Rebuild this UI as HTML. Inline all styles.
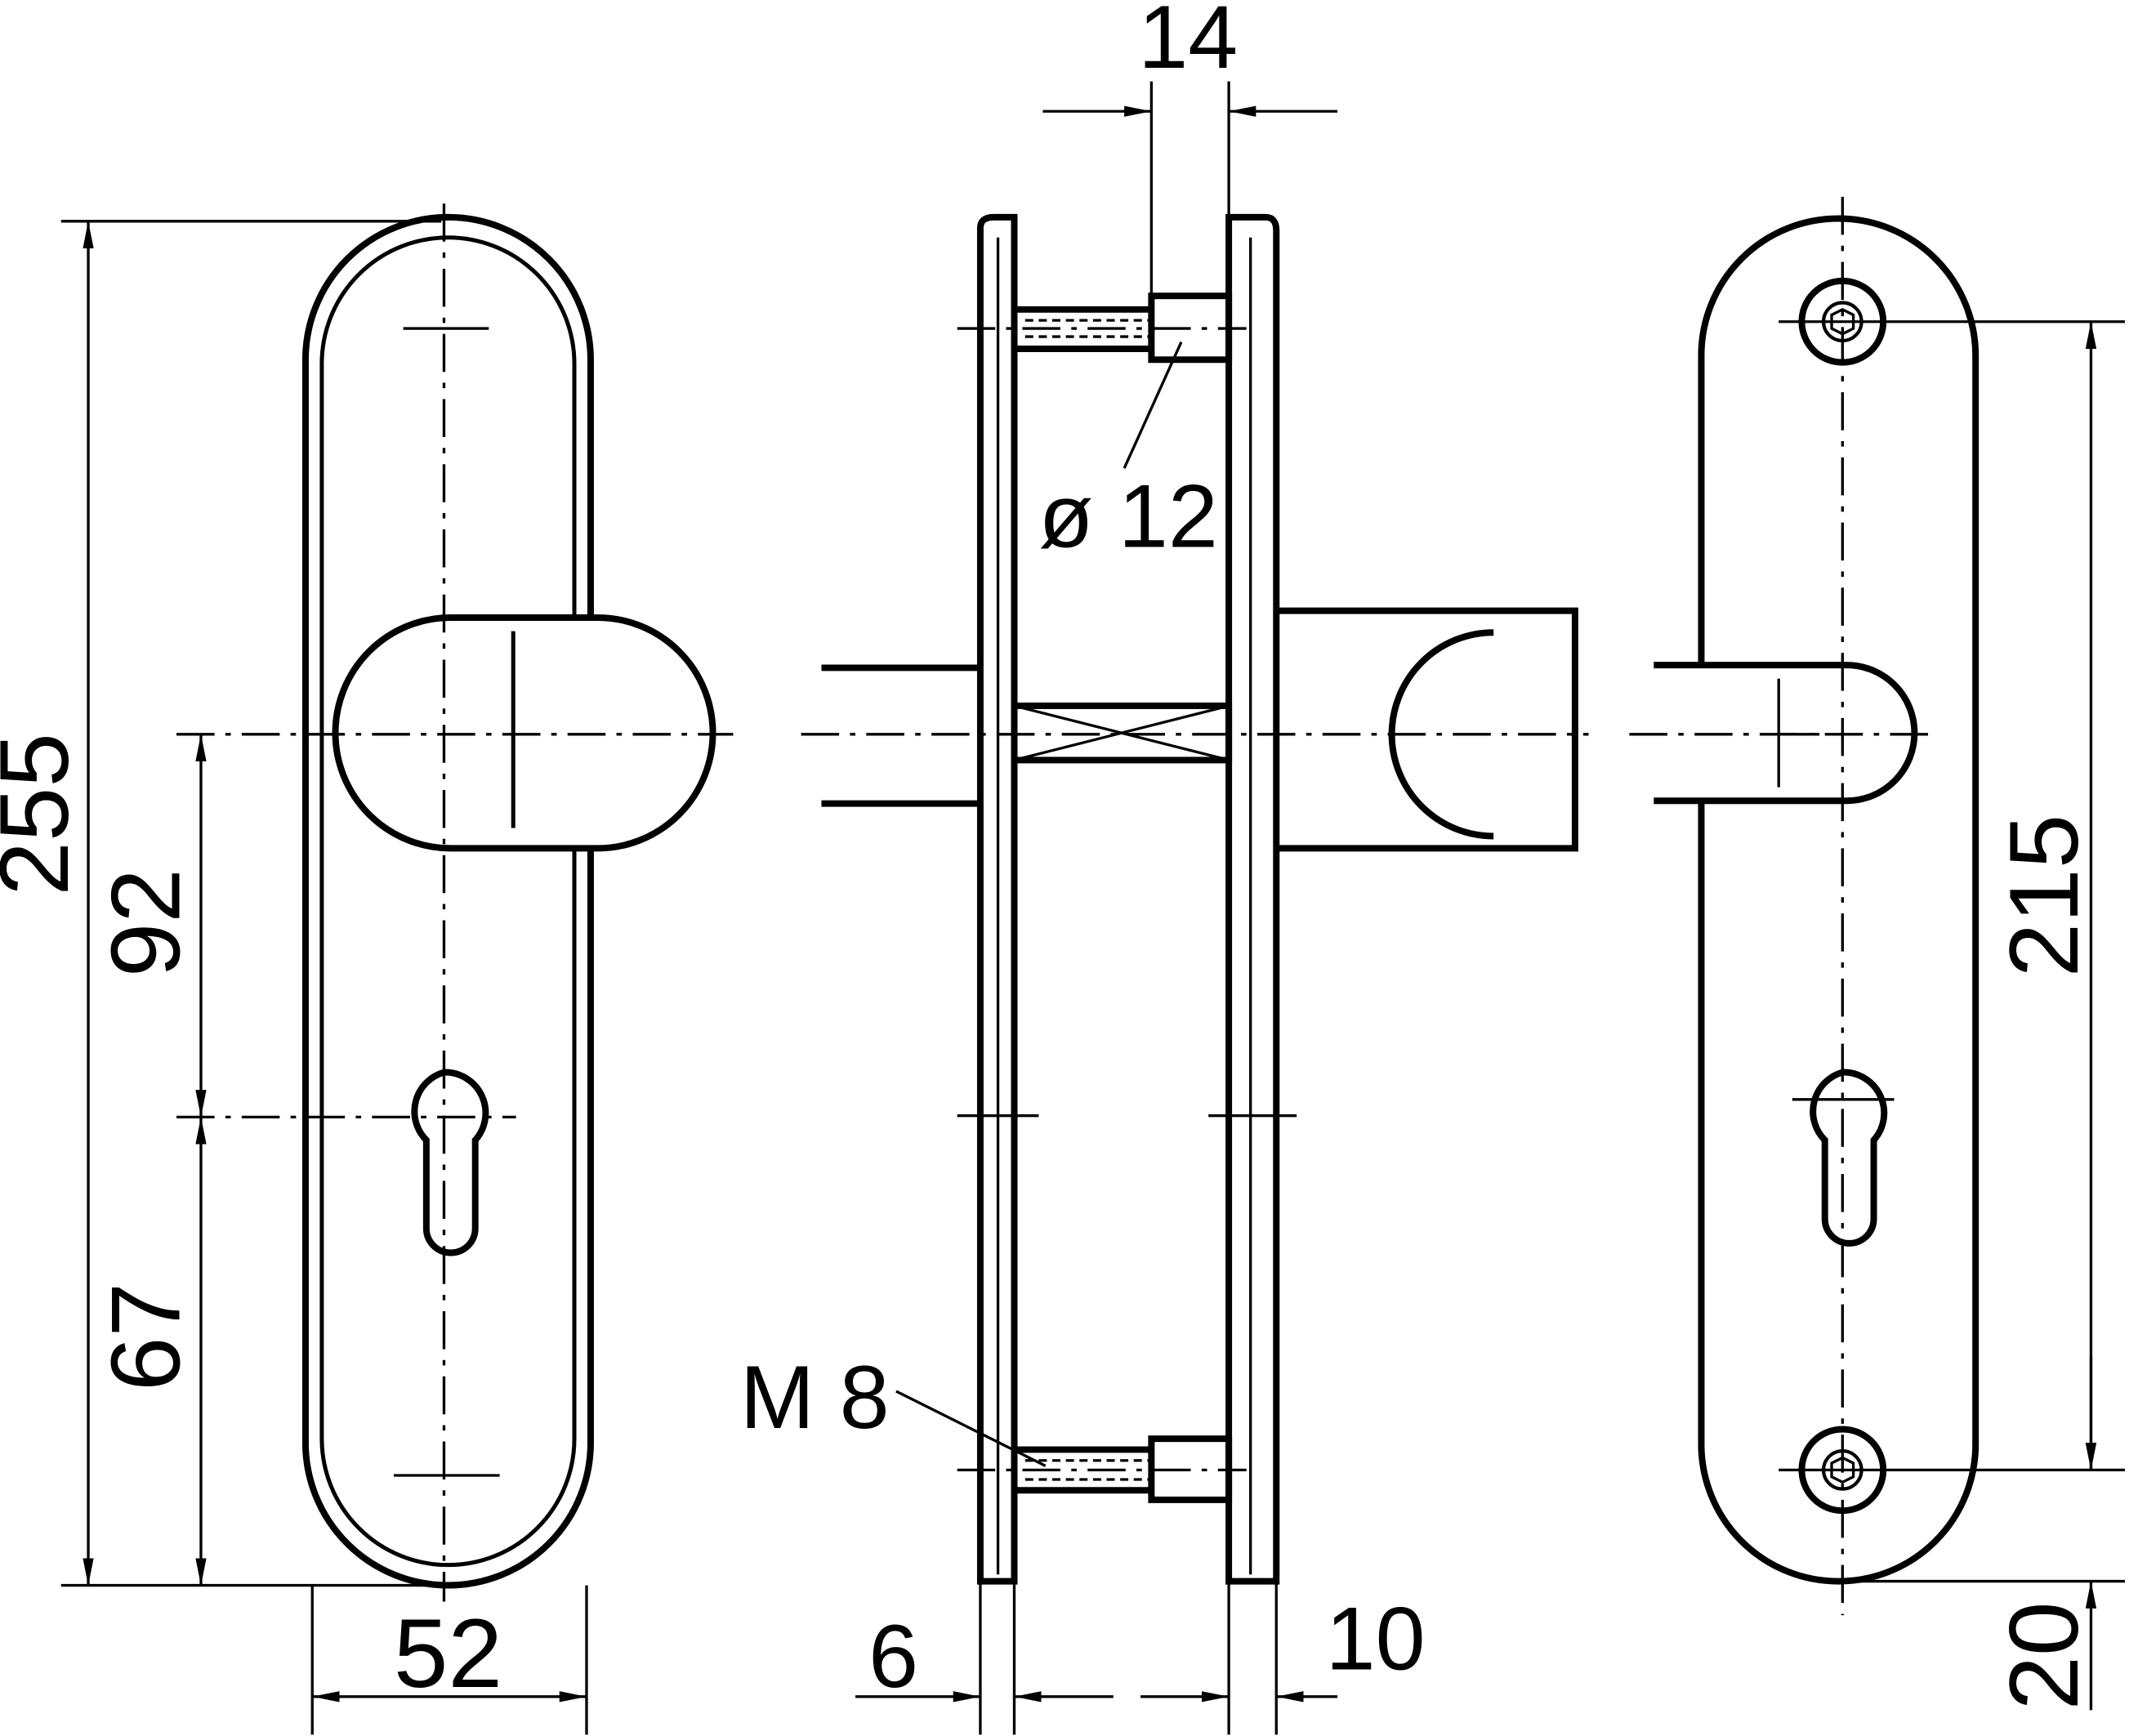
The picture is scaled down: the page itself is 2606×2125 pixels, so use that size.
<!DOCTYPE html>
<html><head><meta charset="utf-8">
<style>
html,body{margin:0;padding:0;background:#fff;}
svg{display:block;}
text{font-family:"Liberation Sans",sans-serif;fill:#000;}
</style></head>
<body>
<svg width="2606" height="2125" viewBox="0 0 1568 1279" preserveAspectRatio="none" xmlns="http://www.w3.org/2000/svg">
<defs>
<marker id="a" viewBox="0 0 20 8" refX="20" refY="4" markerWidth="20" markerHeight="8" markerUnits="userSpaceOnUse" orient="auto-start-reverse">
<path d="M0,0 L20,4 L0,8 z" fill="#000"/></marker>
</defs>
<g fill="none" stroke="#000" stroke-width="4.8">
<!-- LEFT VIEW -->
<path d="M225,265 A102,102 0 0 1 435,265 L435,1063 A102,102 0 0 1 225,1063 Z"/>
<path d="M237,268 A90,90 0 0 1 423,268 L423,1060 A90,90 0 0 1 237,1060 Z" stroke-width="3"/>
<path d="M332,455 L440,455 A85,85 0 0 1 440,625 L332,625 A85,85 0 0 1 332,455 Z" fill="#fff"/>
<path d="M327,790 A30,30 0 0 1 350,840 L350,905 A18,18 0 0 1 314,905 L314,840 A30,30 0 0 1 327,790 Z"/>
</g>
<g fill="none" stroke="#000" stroke-width="2">
<line x1="327" y1="150" x2="327" y2="1180" stroke-dasharray="28,8,4,8"/>
<line x1="130" y1="541" x2="540" y2="541" stroke-dasharray="28,8,4,8"/>
<line x1="130" y1="823" x2="380" y2="823" stroke-dasharray="28,8,4,8"/>
<line x1="297" y1="242" x2="360" y2="242"/>
<line x1="290" y1="1087" x2="368" y2="1087"/>
<line x1="378" y1="465" x2="378" y2="610" stroke-width="3"/>
<line x1="45" y1="163" x2="325" y2="163"/>
<line x1="45" y1="1168" x2="330" y2="1168"/>
<line x1="65" y1="163" x2="65" y2="1168" marker-start="url(#a)" marker-end="url(#a)"/>
<line x1="148" y1="541" x2="148" y2="823" marker-start="url(#a)" marker-end="url(#a)"/>
<line x1="148" y1="823" x2="148" y2="1168" marker-start="url(#a)" marker-end="url(#a)"/>
<line x1="230" y1="1168" x2="230" y2="1278"/>
<line x1="432" y1="1168" x2="432" y2="1278"/>
<line x1="230" y1="1250" x2="432" y2="1250" marker-start="url(#a)" marker-end="url(#a)"/>
</g>
<text transform="translate(50,600) rotate(-90)" font-size="72" text-anchor="middle">255</text>
<text transform="translate(132,680) rotate(-90)" font-size="72" text-anchor="middle">92</text>
<text transform="translate(132,985) rotate(-90)" font-size="72" text-anchor="middle">67</text>
<text x="330" y="1243" font-size="72" text-anchor="middle">52</text>

<!-- MIDDLE VIEW -->
<g fill="none" stroke="#000" stroke-width="4.8">
<path d="M722,1165 L722,168 Q722,160 732,160 L747,160 L747,1165 Z"/>
<line x1="735" y1="175" x2="735" y2="1160" stroke-width="2"/>
<path d="M905,1165 L905,160 L932,160 Q940,160 940,170 L940,1165 Z"/>
<line x1="921" y1="175" x2="921" y2="1160" stroke-width="2"/>
<rect x="848" y="218" width="57" height="47"/>
<rect x="848" y="1060" width="57" height="45"/>
<line x1="747" y1="228" x2="848" y2="228"/>
<line x1="747" y1="257" x2="848" y2="257"/>
<line x1="747" y1="1068" x2="848" y2="1068"/>
<line x1="747" y1="1098" x2="848" y2="1098"/>
<rect x="747" y="520" width="158" height="40"/>
<line x1="605" y1="492" x2="722" y2="492"/>
<line x1="605" y1="592" x2="722" y2="592"/>
<path d="M940,450 L1160,450 L1160,625 L940,625"/>
<path d="M1100,466 A75,75 0 0 0 1100,616"/>
</g>
<g fill="none" stroke="#000" stroke-width="2">
<line x1="755" y1="236" x2="848" y2="236" stroke-dasharray="6,4"/>
<line x1="755" y1="248" x2="848" y2="248" stroke-dasharray="6,4"/>
<line x1="755" y1="1076" x2="848" y2="1076" stroke-dasharray="6,4"/>
<line x1="755" y1="1090" x2="848" y2="1090" stroke-dasharray="6,4"/>
<line x1="747" y1="520" x2="905" y2="560"/>
<line x1="747" y1="560" x2="905" y2="520"/>
<line x1="590" y1="541" x2="1170" y2="541" stroke-dasharray="28,8,4,8"/>
<line x1="705" y1="242" x2="918" y2="242" stroke-dasharray="28,8,4,8"/>
<line x1="705" y1="1083" x2="918" y2="1083" stroke-dasharray="28,8,4,8"/>
<line x1="705" y1="822" x2="765" y2="822"/>
<line x1="890" y1="822" x2="955" y2="822"/>
<line x1="848" y1="60" x2="848" y2="218"/>
<line x1="905" y1="60" x2="905" y2="160"/>
<line x1="768" y1="82" x2="848" y2="82" marker-end="url(#a)"/>
<line x1="985" y1="82" x2="905" y2="82" marker-end="url(#a)"/>
<line x1="870" y1="252" x2="828" y2="345"/>
<line x1="660" y1="1025" x2="770" y2="1080"/>
<line x1="722" y1="1165" x2="722" y2="1278"/>
<line x1="747" y1="1165" x2="747" y2="1278"/>
<line x1="630" y1="1250" x2="722" y2="1250" marker-end="url(#a)"/>
<line x1="820" y1="1250" x2="747" y2="1250" marker-end="url(#a)"/>
<line x1="905" y1="1165" x2="905" y2="1278"/>
<line x1="940" y1="1165" x2="940" y2="1278"/>
<line x1="840" y1="1250" x2="905" y2="1250" marker-end="url(#a)"/>
<line x1="985" y1="1250" x2="940" y2="1250" marker-end="url(#a)"/>
</g>
<text x="875" y="50" font-size="66" text-anchor="middle">14</text>
<text x="765" y="403" font-size="66">ø 12</text>
<text x="545" y="1052" font-size="66">M 8</text>
<text x="658" y="1243" font-size="66" text-anchor="middle">6</text>
<text x="1013" y="1230" font-size="66" text-anchor="middle">10</text>

<!-- RIGHT VIEW -->
<g fill="none" stroke="#000" stroke-width="4.8">
<path d="M1253,262 A101,101 0 0 1 1455,262 L1455,1064 A101,101 0 0 1 1253,1064 Z"/>
<circle cx="1357" cy="237" r="30"/>
<circle cx="1357" cy="1083" r="30"/>
<circle cx="1357" cy="237" r="14" stroke-width="2.5"/>
<circle cx="1357" cy="1083" r="14" stroke-width="2.5"/>
<path d="M1218,490 L1360,490 A50,50 0 0 1 1360,590 L1218,590" fill="#fff"/>
<path d="M1357,790 A30,30 0 0 1 1380,840 L1380,898 A18,18 0 0 1 1344,898 L1344,840 A30,30 0 0 1 1357,790 Z"/>
</g>
<g fill="none" stroke="#000" stroke-width="2">
<polygon points="1357,228 1365,232 1365,242 1357,246 1349,242 1349,232"/>
<polygon points="1357,1074 1365,1078 1365,1088 1357,1092 1349,1088 1349,1078"/>
<line x1="1357" y1="145" x2="1357" y2="1190" stroke-dasharray="28,8,4,8"/>
<line x1="1200" y1="541" x2="1420" y2="541" stroke-dasharray="28,8,4,8"/>
<line x1="1310" y1="500" x2="1310" y2="580"/>
<line x1="1310" y1="541" x2="1340" y2="541"/>
<line x1="1320" y1="810" x2="1395" y2="810"/>
<line x1="1310" y1="237" x2="1565" y2="237"/>
<line x1="1310" y1="1083" x2="1565" y2="1083"/>
<line x1="1357" y1="1165" x2="1565" y2="1165"/>
<line x1="1540" y1="237" x2="1540" y2="1083" marker-start="url(#a)" marker-end="url(#a)"/>
<line x1="1540" y1="1000" x2="1540" y2="1083" marker-end="url(#a)"/>
<line x1="1540" y1="1260" x2="1540" y2="1165" marker-end="url(#a)"/>
</g>
<text transform="translate(1530,660) rotate(-90)" font-size="72" text-anchor="middle">215</text>
<text transform="translate(1530,1220) rotate(-90)" font-size="72" text-anchor="middle">20</text>
</svg>
</body></html>
